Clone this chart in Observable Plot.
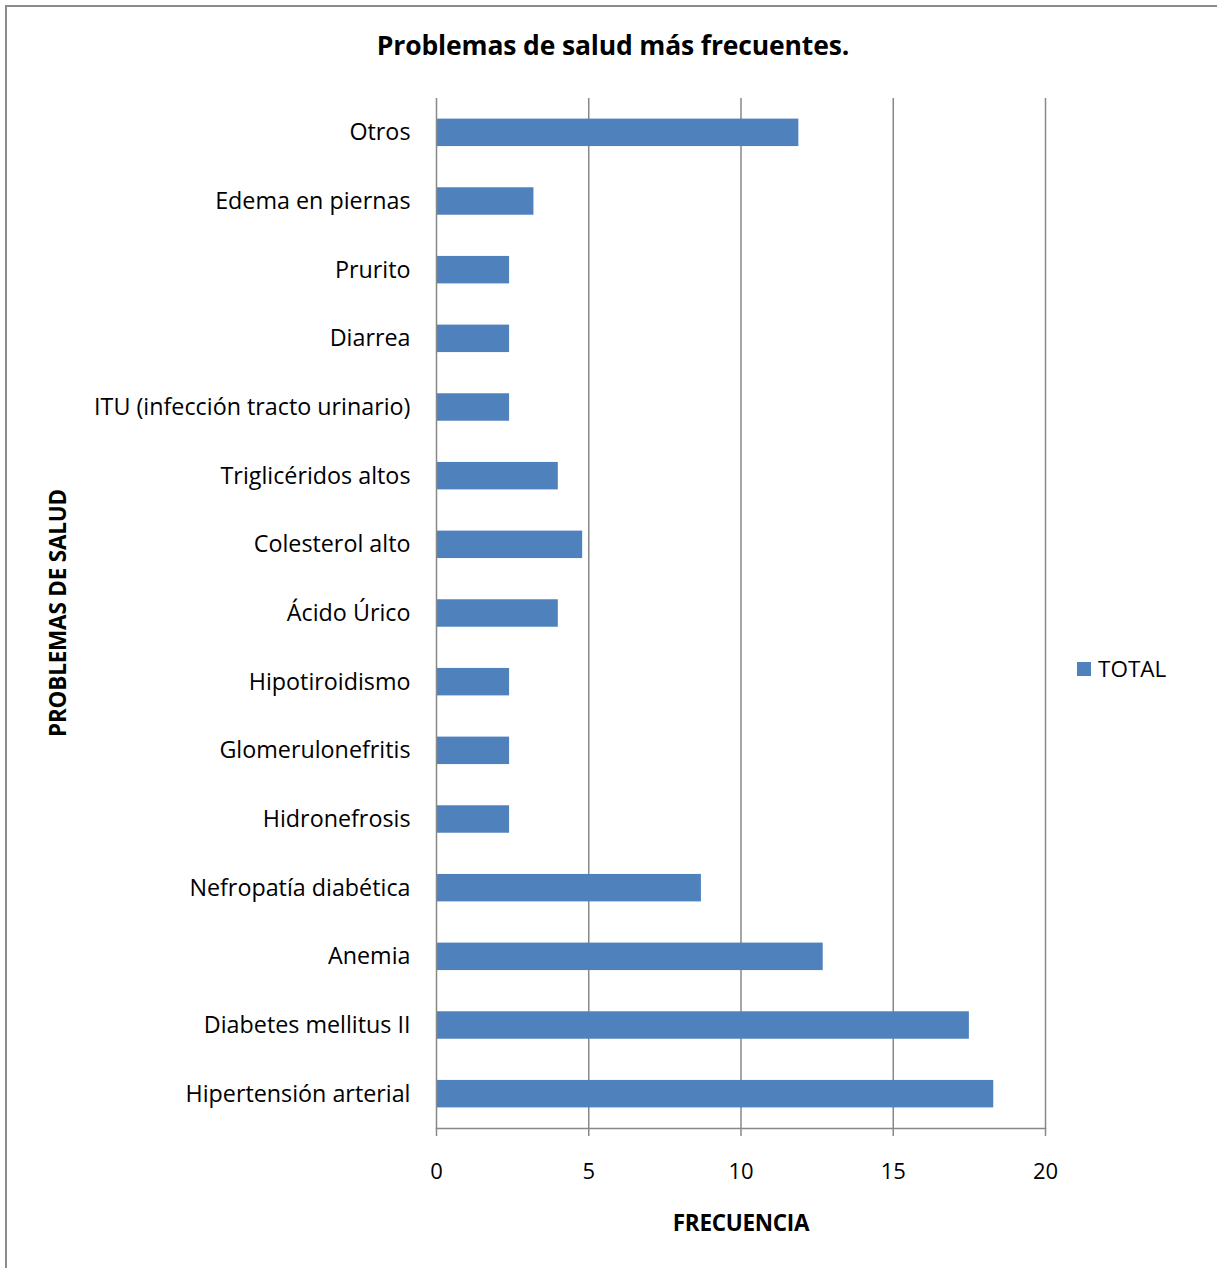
<!DOCTYPE html>
<html>
<head>
<meta charset="utf-8">
<script src="https://cdn.jsdelivr.net/npm/d3@7"></script>
<script src="https://cdn.jsdelivr.net/npm/@observablehq/plot@0.6"></script>
<style>
  html, body { margin: 0; padding: 0; background: #fff; }
  #wrap { position: relative; width: 1217px; height: 1268px; font-family: "Open Sans", Lato, sans-serif; }
  #border { position: absolute; left: 5px; top: 5px; width: 1212px; height: 1263px; border-left: 2px solid #8c8c8c; border-top: 2px solid #8c8c8c; box-sizing: border-box; }
  #title { position: absolute; left: 613px; top: 45px; transform: translate(-50%, -50%); font-weight: bold; font-size: 26.5px; color: #000; white-space: nowrap; letter-spacing: -0.15px; }
  #ytitle { position: absolute; left: 57px; top: 613px; transform: translate(-50%, -50%) rotate(-90deg); font-weight: bold; font-size: 22.5px; white-space: nowrap; letter-spacing: -0.2px; }
  #xtitle { position: absolute; left: 741px; top: 1222px; transform: translate(-50%, -50%); font-weight: bold; font-size: 22.5px; white-space: nowrap; letter-spacing: -0.3px; }
  #legend { position: absolute; left: 1077px; top: 653px; font-size: 22.5px; display: flex; align-items: center; }
  #legend .sw { width: 14px; height: 14px; background: #4f81bd; margin-right: 7px; }
  #chart { position: absolute; left: 0; top: 0; }
</style>
</head>
<body>
<div id="wrap">
  <div id="chart"></div>
  <div id="border"></div>
  <div id="title">Problemas de salud más frecuentes.</div>
  <div id="ytitle">PROBLEMAS DE SALUD</div>
  <div id="xtitle">FRECUENCIA</div>
  <div id="legend"><div class="sw"></div><span>TOTAL</span></div>
</div>
<script>
const categories = [
  "Otros",
  "Edema en piernas",
  "Prurito",
  "Diarrea",
  "ITU (infección tracto urinario)",
  "Triglicéridos altos",
  "Colesterol alto",
  "Ácido Úrico",
  "Hipotiroidismo",
  "Glomerulonefritis",
  "Hidronefrosis",
  "Nefropatía diabética",
  "Anemia",
  "Diabetes mellitus II",
  "Hipertensión arterial"
];
const totals = [11.9, 3.2, 2.4, 2.4, 2.4, 4.0, 4.8, 4.0, 2.4, 2.4, 2.4, 8.7, 12.7, 17.5, 18.3];
const xTicks = [0, 5, 10, 15, 20];
const seriesName = "TOTAL";

const data = categories.map((c, i) => ({problema: c, total: totals[i], serie: seriesName}));

const chart = Plot.plot({
  width: 1217,
  height: 1268,
  marginLeft: 436,
  marginRight: 172,
  marginTop: 98,
  marginBottom: 140,
  style: {fontFamily: "'Open Sans', Lato, sans-serif", fontSize: "22px", color: "#000", background: "transparent"},
  x: {domain: [0, 20], ticks: xTicks, label: null},
  y: {domain: categories, paddingInner: 0.6, paddingOuter: 0.3, round: false, label: null},
  marks: [
    Plot.ruleX(xTicks.filter(d => d > 0), {stroke: "#888", strokeWidth: 1.5}),
    Plot.barX(data, {x: "total", y: "problema", fill: "#4f81bd"}),
    Plot.ruleX([0], {stroke: "#888", strokeWidth: 1.5}),
    Plot.frame({anchor: "bottom", stroke: "#888", strokeWidth: 1.5}),
    Plot.axisX({ticks: xTicks, tickSize: 8, tickPadding: 27, stroke: "#888", strokeWidth: 1.5, fontSize: 22, label: null}),
    Plot.axisY({tickSize: 0, tickPadding: 26, fontSize: 23.3, label: null})
  ]
});
document.getElementById("chart").appendChild(chart);
</script>
</body>
</html>
